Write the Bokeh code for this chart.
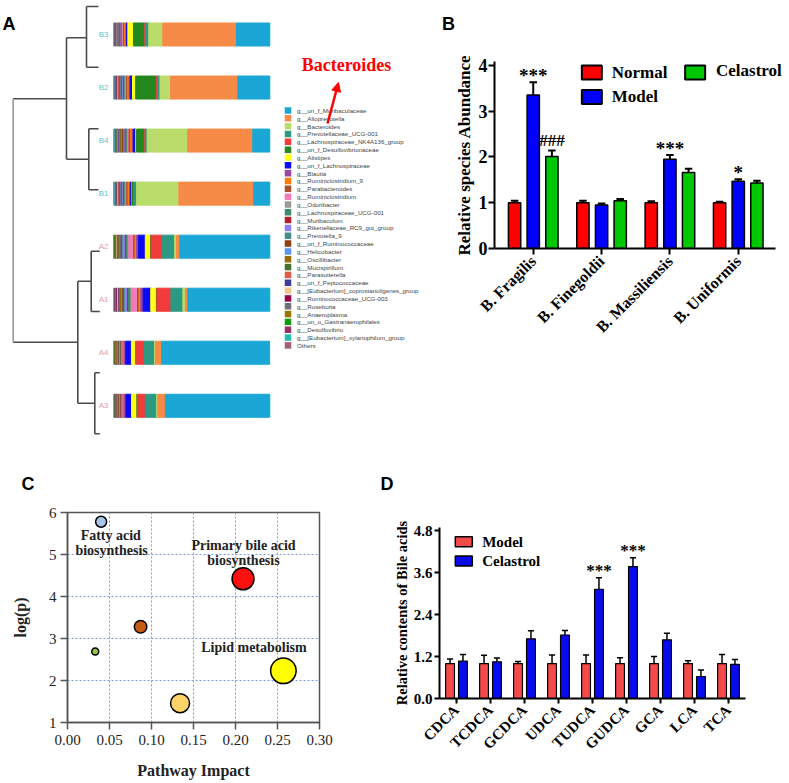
import math
from bokeh.plotting import figure
from bokeh.layouts import column, row
from bokeh.models import (Range1d, FactorRange, ColumnDataSource, Arrow,
                          NormalHead, FixedTicker, NumeralTickFormatter)
from bokeh.transform import dodge
from bokeh.core.properties import value
from bokeh.embed import file_html
from bokeh.resources import INLINE

SERIF = "Liberation Serif"
SANS = "Liberation Sans"

# ---------------- Panel A data (relative abundance, %) ----------------
samples = ["B3", "B2", "B4", "B1", "A2", "A1", "A4", "A3"]
sample_colors = ["#5FC4CB"] * 4 + ["#E69AAF"] * 4
taxa = ["g__un_f_Muribaculaceae", "g__Alloprevotella", "g__Bacteroides",
        "g__Prevotellaceae_UCG-001", "g__Lachnospiraceae_NK4A136_group",
        "g__un_f_Desulfovibrionaceae", "g__Alistipes", "g__un_f_Lachnospiraceae",
        "g__Blautia", "g__Ruminiclostridium_9", "g__Parabacteroides",
        "g__Ruminiclostridium", "g__Odoribacter", "g__Lachnospiraceae_UCG-001",
        "g__Muribaculum", "g__Rikenellaceae_RC9_gut_group", "g__Prevotella_9",
        "g__un_f_Ruminococcaceae", "g__Helicobacter", "g__Oscillibacter",
        "g__Mucispirillum", "g__Parasutterella", "g__un_f_Peptococcaceae",
        "g__[Eubacterium]_coprostanoligenes_group", "g__Ruminococcaceae_UCG-003",
        "g__Roseburia", "g__Anaeroplasma", "g__un_o_Gastranaerophilales",
        "g__Desulfovibrio", "g__[Eubacterium]_xylanophilum_group", "Others"]
taxa_colors = ["#1AA7D6", "#F68B47", "#B9DC6B", "#2C9A83", "#F23B3B", "#23871E",
               "#FFFF1A", "#0A0AF5", "#9B45A5", "#FF7A0A", "#A5522A", "#F27AB8",
               "#9A9A9A", "#3B8C6A", "#B3202A", "#8C80F5", "#468C8C", "#8C3F0F",
               "#5B96F0", "#9A6A08", "#46702E", "#DE5B46", "#3C3C96", "#F2C78C",
               "#99004C", "#6E6E78", "#9A7400", "#0F9A0F", "#972F68", "#21BDB5",
               "#A0616E"]
comp_B3 = [21.4, 47.2, 9.0, 2.2, 0.6, 7.0, 3.6, 0.8, 0.4, 0.9, 0.7, 0.3, 0.4, 0.5, 0.3, 0.3,
           0.4, 0.5, 0.2, 0.3, 0.3, 0.4, 0.2, 0.3, 0.2, 0.3, 0.2, 0.1, 0.3, 0.2, 0.5]
comp_B2 = [20.5, 43.1, 6.8, 1.6, 0.8, 13.2, 2.0, 1.5, 0.6, 1.0, 0.8, 0.4, 0.5, 0.6, 0.4, 0.4,
           0.5, 0.6, 0.3, 0.4, 0.4, 0.5, 0.3, 0.4, 0.3, 0.4, 0.3, 0.2, 0.4, 0.3, 0.5]
comp_B4 = [10.9, 41.7, 26.0, 1.2, 0.6, 5.0, 0.5, 1.5, 0.8, 1.1, 0.9, 0.5, 0.7, 0.8, 0.5, 0.5,
           0.6, 0.7, 0.4, 0.5, 0.4, 0.6, 0.4, 0.5, 0.3, 0.5, 0.3, 0.2, 0.4, 0.4, 0.6]
comp_B1 = [10.3, 48.0, 27.1, 1.5, 0.5, 1.0, 0.3, 0.6, 0.6, 1.0, 0.8, 0.4, 0.6, 0.7, 0.4, 0.4,
           0.5, 0.6, 0.3, 0.4, 0.3, 0.5, 0.3, 0.4, 0.3, 0.4, 0.3, 0.2, 0.3, 0.4, 0.6]
comp_A2 = [57.7, 2.1, 1.2, 7.9, 7.2, 0.3, 3.4, 4.3, 1.3, 1.0, 0.9, 3.0, 0.6, 1.2, 0.5, 1.4,
           0.6, 0.8, 0.5, 0.5, 0.4, 0.5, 0.4, 0.4, 0.3, 0.4, 0.3, 0.2, 0.3, 0.2, 0.2]
comp_A1 = [52.6, 1.5, 1.6, 7.7, 9.0, 0.3, 3.6, 4.9, 1.5, 1.1, 1.0, 3.6, 0.7, 1.4, 0.6, 1.6,
           0.7, 0.9, 0.6, 0.6, 0.5, 0.6, 0.5, 0.5, 0.4, 0.5, 0.3, 0.2, 0.4, 0.2, 0.4]
comp_A4 = [69.2, 4.0, 0.6, 6.4, 5.3, 0.3, 2.8, 3.6, 0.8, 0.5, 0.5, 0.4, 0.3, 0.6, 0.3, 0.6,
           0.3, 0.4, 0.3, 0.3, 0.2, 0.3, 0.2, 0.2, 0.2, 0.2, 0.2, 0.1, 0.2, 0.1, 0.5]
comp_A3 = [66.9, 4.9, 0.7, 7.3, 5.1, 0.3, 3.4, 3.6, 0.8, 0.5, 0.5, 0.4, 0.3, 0.6, 0.3, 0.6,
           0.3, 0.4, 0.3, 0.3, 0.2, 0.3, 0.2, 0.2, 0.2, 0.2, 0.2, 0.1, 0.2, 0.1, 0.6]

# ---------------- Panel B data ----------------
species = ["B. Fragilis", "B. Finegoldii", "B. Massiliensis", "B. Uniformis"]
abund_normal = [1.00, 1.00, 1.00, 1.00]
abund_normal_sem = [0.04, 0.04, 0.03, 0.02]
abund_model = [3.35, 0.95, 1.95, 1.47]
abund_model_sem = [0.28, 0.03, 0.09, 0.04]
abund_celastrol = [2.01, 1.04, 1.66, 1.43]
abund_celastrol_sem = [0.13, 0.04, 0.08, 0.05]
sig_model_B = ["***", "", "***", "*"]
sig_celastrol_B = ["###", "", "", ""]
abund_ticks = [0, 1, 2, 3, 4]

# ---------------- Panel C data ----------------
path_impact = [0.040, 0.209, 0.087, 0.033, 0.134, 0.257]
path_logp = [5.78, 4.42, 3.28, 2.69, 1.46, 2.23]
path_size = [11, 22, 12.5, 7, 19, 25.5]
path_color = ["#A9C6EA", "#FF1010", "#C65A14", "#92C83E", "#FDD36A", "#FFFF00"]
path_label_text = ["Fatty acid", "biosynthesis", "Primary bile acid", "biosynthesis",
                   "Lipid metabolism"]
path_label_x = [0.0515, 0.0525, 0.2095, 0.2095, 0.222]
path_label_y = [5.445, 5.088, 5.207, 4.867, 2.786]
impact_ticks = [0.0, 0.05, 0.10, 0.15, 0.20, 0.25, 0.30]
logp_ticks = [1, 2, 3, 4, 5, 6]

# ---------------- Panel D data ----------------
acids = ["CDCA", "TCDCA", "GCDCA", "UDCA", "TUDCA", "GUDCA", "GCA", "LCA", "TCA"]
ba_model = [1.00, 1.00, 1.00, 1.00, 1.00, 1.00, 1.00, 1.00, 1.00]
ba_model_sem = [0.13, 0.24, 0.06, 0.25, 0.25, 0.17, 0.20, 0.08, 0.26]
ba_celastrol = [1.07, 1.05, 1.71, 1.82, 3.13, 3.78, 1.68, 0.63, 0.98]
ba_celastrol_sem = [0.19, 0.11, 0.23, 0.13, 0.33, 0.25, 0.19, 0.19, 0.14]
sig_D = ["", "", "", "", "***", "***", "", "", ""]
ba_ticks = [0.0, 1.2, 2.4, 3.6, 4.8]


def style_common(p):
    p.background_fill_color = "white"
    p.border_fill_color = "white"
    p.grid.visible = False
    p.outline_line_color = None
    p.frame_align = False


# ======================= Panel A (also hosts the panel letters) =======================
def U(px):
    return (px - 113.3) / 1.56


def V(py):
    return (py - 34.0) / 53.04


pA = figure(width=475, height=495, x_range=Range1d(U(0), U(475)),
            y_range=Range1d(V(495), V(0)), toolbar_location=None,
            output_backend="svg", x_axis_location=None, y_axis_location=None,
            min_border=0, title=None)
style_common(pA)

comps = [comp_B3, comp_B2, comp_B4, comp_B1, comp_A2, comp_A1, comp_A4, comp_A3]
dataA = {"y": list(range(len(samples))), "name": samples, "lc": sample_colors}
for k in range(len(taxa)):
    dataA[f"t{k}"] = [c[k] for c in comps]
srcA = ColumnDataSource(dataA)
order = list(range(len(taxa) - 1, -1, -1))
pA.hbar_stack([f"t{k}" for k in order], y="y", height=0.434,
              color=[taxa_colors[k] for k in order], source=srcA)
pA.text(x=U(108), y="y", text="name", text_color="lc", source=srcA,
        text_font=value(SANS), text_font_size="8px", text_align="right",
        text_baseline="middle")

# dendrogram (traced in pixels, converted to the panel's scale)
dend = [
    (86, 6, 86, 66.7), (86, 6, 98, 6), (86, 66.7, 98, 66.7), (66, 37.3, 86, 37.3),
    (88.3, 128.3, 88.3, 189.3), (88.3, 128.3, 98, 128.3), (88.3, 189.3, 98, 189.3),
    (66, 158.7, 88.3, 158.7), (66, 37.3, 66, 158.7), (12.7, 98.3, 66, 98.3),
    (12.7, 341.7, 77.3, 341.7), (77.3, 280.7, 77.3, 402.7), (77.3, 280.7, 90.7, 280.7),
    (90.7, 250.7, 90.7, 311), (90.7, 250.7, 99.3, 250.7), (90.7, 311, 99.3, 311),
    (77.3, 402.7, 94.3, 402.7), (94.3, 372.3, 94.3, 433.3), (94.3, 372.3, 99.3, 372.3),
    (94.3, 433.3, 99.3, 433.3),
]
pA.segment(x0=[U(a) for a, b, c, d in dend], y0=[V(b) for a, b, c, d in dend],
           x1=[U(c) for a, b, c, d in dend], y1=[V(d) for a, b, c, d in dend],
           line_color="#4A4A4A", line_width=1.6)
pA.segment(x0=[U(12.7)], y0=[V(98.3)], x1=[U(12.7)], y1=[V(341.7)],
           line_color="#9A9A9A", line_width=1.6)

# legend
leg_y = [V(110 + 7.83 * i) for i in range(len(taxa))]
pA.scatter(x=[U(287.5)] * len(taxa), y=leg_y, marker="square", size=6.5,
           fill_color=taxa_colors, line_color=None)
pA.text(x=[U(296.5)] * len(taxa), y=leg_y, text=taxa, text_font=value(SANS),
        text_font_size="6.2px", text_color="#444444", text_baseline="middle")

pA.text(x=[U(346)], y=[V(64)], text=["Bacteroides"], text_font=value(SERIF),
        text_font_size="18px", text_font_style="bold", text_color="#FF0000",
        text_align="center", text_baseline="middle")
pA.add_layout(Arrow(end=NormalHead(size=9, fill_color="#FF0000", line_color="#FF0000"),
                    x_start=U(327), y_start=V(123), x_end=U(338), y_end=V(82),
                    line_color="#FF0000", line_width=2.5))

# panel letters
pA.text(x=[U(2), U(441.5), U(21), U(380)], y=[V(23), V(23), V(483), V(483)],
        text=["A", "B", "C", "D"], text_font=value(SANS), text_font_size="18px",
        text_font_style="bold", text_color="black", text_align="left",
        text_baseline="middle")
# y-axis title of panel B (sits left of B's axis, inside this canvas)
pA.text(x=[U(464)], y=[V(154.5)], text=["Relative species Abundance"], angle=math.pi / 2,
        text_font=value(SERIF), text_font_size="17px", text_font_style="bold",
        text_color="black", text_align="center", text_baseline="middle")


# ======================= Panel B =======================
def bx(px):
    return (px - 531.0) / 68.8


def by(py):
    return (248.0 - py) / 45.83


pB = figure(width=314, height=495, x_range=Range1d(bx(492), bx(789)),
            y_range=Range1d(0, 4.08), toolbar_location=None, output_backend="svg",
            min_border_left=17, min_border_right=0, min_border_top=61,
            min_border_bottom=247, title=None)
style_common(pB)

sp_idx = list(range(len(species)))
srcB = ColumnDataSource(dict(
    i=sp_idx, normal=abund_normal, model=abund_model, cel=abund_celastrol,
    normal_hi=[v + e for v, e in zip(abund_normal, abund_normal_sem)],
    model_hi=[v + e for v, e in zip(abund_model, abund_model_sem)],
    cel_hi=[v + e for v, e in zip(abund_celastrol, abund_celastrol_sem)],
    sig_m=sig_model_B, sig_c=sig_celastrol_B))

for col, off, color in [("normal", -0.273, "#FF0000"), ("model", 0.0, "#0000FF"),
                        ("cel", 0.273, "#00C800")]:
    pB.vbar(x=dodge("i", off), top=col, width=0.18, source=srcB,
            fill_color=color, line_color="black", line_width=1.5)
    pB.segment(x0=dodge("i", off), y0=col, x1=dodge("i", off), y1=col + "_hi",
               source=srcB, line_color="black", line_width=2)
    pB.segment(x0=dodge("i", off - 0.055), y0=col + "_hi",
               x1=dodge("i", off + 0.055), y1=col + "_hi",
               source=srcB, line_color="black", line_width=2)

pB.text(x="i", y="model_hi", text="sig_m", source=srcB,
        text_font=value(SERIF), text_font_size="19px", text_font_style="bold",
        text_align="center", text_baseline="alphabetic", y_offset=-7)
pB.text(x=dodge("i", 0.273), y="cel_hi", text="sig_c", source=srcB,
        text_font=value(SERIF), text_font_size="17px", text_font_style="bold",
        text_align="center", text_baseline="alphabetic", y_offset=-10)

pB.rect(x=[bx(590), bx(590), bx(694)], y=[by(72), by(96.5), by(72)],
        width=20, height=14, width_units="screen", height_units="screen",
        fill_color=["#FF0000", "#0000FF", "#00C800"], line_color="black", line_width=2)
pB.text(x=[bx(610), bx(610), bx(715)], y=[by(72), by(96), by(70)],
        text=["Normal", "Model", "Celastrol"], text_font=value(SERIF),
        text_font_size="17px", text_font_style="bold", text_baseline="middle",
        text_align="left")

for ax in (pB.xaxis, pB.yaxis):
    ax.axis_line_width = 2
    ax.axis_line_color = "black"
    ax.major_tick_line_width = 2
    ax.major_tick_line_color = "black"
    ax.major_tick_in = 0
    ax.major_tick_out = 6
    ax.minor_tick_line_color = None
    ax.major_label_text_font = SERIF
    ax.major_label_text_font_style = "bold"
    ax.major_label_text_color = "black"
pB.xaxis.bounds = (bx(491.7), bx(775))
pB.xaxis.ticker = FixedTicker(ticks=sp_idx)
pB.xaxis.major_label_overrides = {i: s for i, s in zip(sp_idx, species)}
pB.xaxis.major_label_orientation = math.pi / 4
pB.xaxis.major_label_text_font_size = "16px"
pB.xaxis.major_label_standoff = 4
pB.yaxis.ticker = FixedTicker(ticks=abund_ticks)
pB.yaxis.major_label_text_font_size = "18px"
pB.yaxis.major_label_standoff = 1


# ======================= Panel C =======================
pC = figure(width=380, height=288, x_range=Range1d(0, 0.3), y_range=Range1d(1, 6),
            toolbar_location=None, output_backend="svg", min_border_left=67,
            min_border_right=61, min_border_top=17, min_border_bottom=61, title=None)
style_common(pC)
pC.outline_line_color = "#555555"
pC.outline_line_width = 1.5
pC.xgrid.visible = True
pC.ygrid.visible = True
pC.xgrid.ticker = FixedTicker(ticks=impact_ticks)
pC.ygrid.ticker = FixedTicker(ticks=logp_ticks)
for g in (pC.xgrid, pC.ygrid):
    g.grid_line_color = "#7A9BE0"
    g.grid_line_dash = "2 2"
    g.grid_line_width = 1

pC.xaxis.ticker = FixedTicker(ticks=impact_ticks)
pC.xaxis.formatter = NumeralTickFormatter(format="0.00")
pC.yaxis.ticker = FixedTicker(ticks=logp_ticks)
for ax in (pC.xaxis, pC.yaxis):
    ax.axis_line_color = "#555555"
    ax.axis_line_width = 1.5
    ax.major_tick_line_color = "#555555"
    ax.major_tick_line_width = 1.5
    ax.major_tick_in = 0
    ax.major_tick_out = 7
    ax.minor_tick_line_color = None
    ax.major_label_text_font = SERIF
    ax.major_label_text_font_size = "15px"
    ax.major_label_text_color = "#222222"
    ax.axis_label_text_font = SERIF
    ax.axis_label_text_font_size = "16px"
    ax.axis_label_text_font_style = "bold"
    ax.axis_label_text_color = "#222222"
pC.xaxis.major_label_standoff = 5
pC.yaxis.major_label_standoff = 4
pC.xaxis.axis_label = "Pathway Impact"
pC.xaxis.axis_label_standoff = 14
pC.yaxis.axis_label = "log(p)"
pC.yaxis.axis_label_standoff = 17

srcC = ColumnDataSource(dict(x=path_impact, y=path_logp, s=path_size, c=path_color))
pC.scatter(x="x", y="y", size="s", fill_color="c", line_color="black", line_width=1.5,
           source=srcC)
pC.text(x=path_label_x, y=path_label_y, text=path_label_text, text_font=value(SERIF),
        text_font_size="14px", text_font_style="bold", text_color="#222222",
        text_align="center", text_baseline="middle")


# ======================= Panel D =======================
def dx(px):
    return 0.5 + (px - 456.0) / 34.0


def dy(py):
    return (698.0 - py) / 34.9


pD = figure(width=409, height=288, x_range=FactorRange(factors=acids, range_padding=0),
            y_range=Range1d(0, 4.9), toolbar_location=None, output_backend="svg",
            min_border_left=59, min_border_right=44, min_border_top=32,
            min_border_bottom=85, title=None)
style_common(pD)

srcD = ColumnDataSource(dict(
    acid=acids, model=ba_model, cel=ba_celastrol,
    model_hi=[v + e for v, e in zip(ba_model, ba_model_sem)],
    cel_hi=[v + e for v, e in zip(ba_celastrol, ba_celastrol_sem)], sig=sig_D))
for col, off, color in [("model", -0.19, "#F44A4A"), ("cel", 0.19, "#0A0AF0")]:
    pD.vbar(x=dodge("acid", off, range=pD.x_range), top=col, width=0.26, source=srcD,
            fill_color=color, line_color="black", line_width=1.2)
    pD.segment(x0=dodge("acid", off, range=pD.x_range), y0=col,
               x1=dodge("acid", off, range=pD.x_range), y1=col + "_hi", source=srcD,
               line_color="black", line_width=1.5)
    pD.segment(x0=dodge("acid", off - 0.09, range=pD.x_range), y0=col + "_hi",
               x1=dodge("acid", off + 0.09, range=pD.x_range), y1=col + "_hi",
               source=srcD, line_color="black", line_width=1.5)
pD.text(x=dodge("acid", 0.19, range=pD.x_range), y="cel_hi", text="sig", source=srcD,
        text_font=value(SERIF), text_font_size="17px", text_font_style="bold",
        text_align="center", text_baseline="alphabetic", y_offset=-7)

pD.rect(x=[dx(463.3), dx(463.3)], y=[dy(541.3), dy(560.5)], width=17, height=10,
        width_units="screen", height_units="screen",
        fill_color=["#F44A4A", "#0A0AF0"], line_color="black", line_width=1.5)
pD.text(x=[dx(481.7), dx(481.7)], y=[dy(541), dy(560.5)], text=["Model", "Celastrol"],
        text_font=value(SERIF), text_font_size="15px", text_font_style="bold",
        text_baseline="middle", text_align="left")

for ax in (pD.xaxis, pD.yaxis):
    ax.axis_line_width = 2
    ax.axis_line_color = "black"
    ax.major_tick_line_width = 2
    ax.major_tick_line_color = "black"
    ax.major_tick_in = 0
    ax.major_tick_out = 5
    ax.minor_tick_line_color = None
    ax.major_label_text_font = SERIF
    ax.major_label_text_font_style = "bold"
    ax.major_label_text_font_size = "15px"
    ax.major_label_text_color = "black"
pD.yaxis.ticker = FixedTicker(ticks=ba_ticks)
pD.yaxis.formatter = NumeralTickFormatter(format="0.0")
pD.yaxis.major_label_standoff = 2
pD.xaxis.major_label_orientation = math.pi / 4
pD.xaxis.major_label_standoff = 4
pD.yaxis.axis_label = "Relative contents of Bile acids"
pD.yaxis.axis_label_text_font = SERIF
pD.yaxis.axis_label_text_font_size = "14.5px"
pD.yaxis.axis_label_text_font_style = "bold"
pD.yaxis.axis_label_text_color = "black"
pD.yaxis.axis_label_standoff = 1

layout = column(row(pA, pB), row(pC, pD))
open("out.html", "w").write(file_html(layout, INLINE))
